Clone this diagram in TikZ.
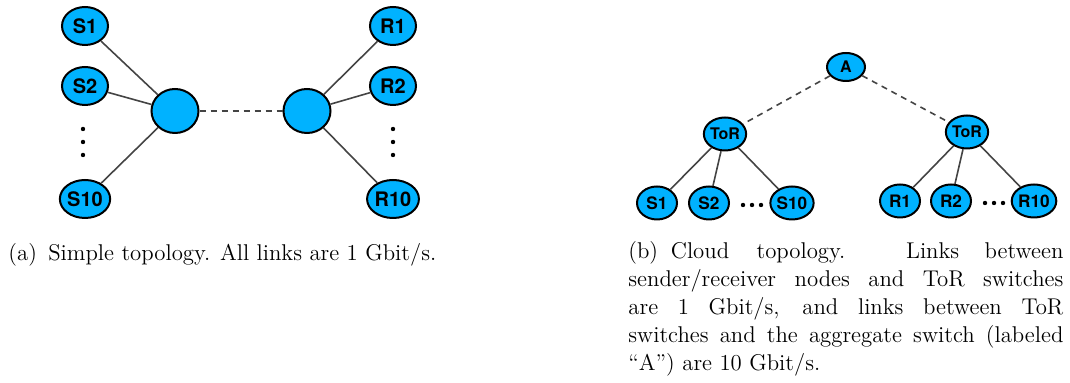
\documentclass[tikz,border=0pt]{standalone}
\usepackage{fontspec}
\setsansfont{TeX Gyre Heros}
\usepackage{tikz}
\usetikzlibrary{positioning,shapes.geometric}
\definecolor{nodeblue}{HTML}{00B2FF}
\definecolor{linkgray}{HTML}{444444}

\begin{document}
\begin{tikzpicture}[x=0.5pt,y=-0.5pt,
 host/.style={ellipse,draw=black,line width=1pt,fill=nodeblue,inner sep=0pt,
   minimum width=23pt,minimum height=19pt,font=\sffamily\bfseries\fontsize{10}{12}\selectfont},
 hub/.style={host,minimum width=23.5pt,minimum height=22pt},
 leaf/.style={host,minimum width=20pt,minimum height=16.5pt,font=\sffamily\bfseries\fontsize{8.6}{10}\selectfont},
 tor/.style={leaf,minimum width=19pt,minimum height=16.5pt,font=\sffamily\bfseries\fontsize{8}{10}\selectfont},
 agg/.style={leaf,minimum width=19pt,minimum height=14pt,font=\sffamily\bfseries\fontsize{8}{10}\selectfont},
 link/.style={draw=linkgray,line width=0.8pt},
 fast/.style={link,dashed,dash pattern=on 3pt off 2.5pt},
 vdots/.style={circle,fill=black,inner sep=0pt,minimum size=2.2pt},
 capt/.style={font=\fontsize{11.4}{14}\selectfont,inner sep=0pt}]
\useasboundingbox (0,0) rectangle (1070,383);
% (a) simple topology
\node[hub] (lhub) at (175,111) {};
\node[hub] (rhub) at (307,111) {};
\node[host] (s1) at (85,26) {S1};
\node[host] (s2) at (85,86) {S2};
\node[host] (s10) at (85,199) {S10};
\node[host] (r1) at (393,26) {R1};
\node[host] (r2) at (393,86) {R2};
\node[host] (r10) at (393,199) {R10};
\foreach \y/\n in {129/1,142/2,155/3} {
  \node[vdots] (sdot\n) at (83,\y) {};
  \node[vdots] (rdot\n) at (393,\y) {};
}
\foreach \h in {s1,s2,s10} \draw[link] (\h) -- (lhub);
\foreach \h in {r1,r2,r10} \draw[link] (\h) -- (rhub);
\draw[fast] (lhub) -- (rhub);
% (b) cloud topology
\node[agg] (aggA) at (846,67) {A};
\node[tor] (ltor) at (725,134) {ToR};
\node[tor] (rtor) at (967,132) {ToR};
\node[leaf] (cs1) at (657,203) {S1};
\node[leaf] (cs2) at (709,203) {S2};
\node[leaf] (cs10) at (792,203) {S10};
\node[leaf] (cr1) at (900,201) {R1};
\node[leaf] (cr2) at (951,201) {R2};
\node[leaf] (cr10) at (1034,201) {R10};
\foreach \x/\n in {743/1,752/2,761/3} \node[vdots] (cdot\n) at (\x,205) {};
\foreach \x/\n in {985/1,994/2,1003/3} \node[vdots] (ddot\n) at (\x,203) {};
\foreach \h in {cs1,cs2,cs10} \draw[link] (\h) -- (ltor);
\foreach \h in {cr1,cr2,cr10} \draw[link] (\h) -- (rtor);
\draw[fast] (aggA) -- (ltor);
\draw[fast] (aggA) -- (rtor);
% captions
\node[capt,anchor=base west] (capa) at (8,261) {(a)\enspace Simple topology. All links are 1 Gbit/s.};
\node[capt,anchor=north west,text width=217.5pt,align=justify] (capb) at (628,241)
 {(b)\hspace{5pt plus 1pt}Cloud\hspace{11pt plus 2pt}topology.\hspace{25pt plus 4pt}Links\hspace{10pt plus 2pt}between\linebreak
  sender/receiver nodes and ToR switches\linebreak
  are 1 Gbit/s, and links between ToR\linebreak switches and the aggregate switch (labeled\linebreak
  ``A'') are 10 Gbit/s.};
\end{tikzpicture}
\end{document}
